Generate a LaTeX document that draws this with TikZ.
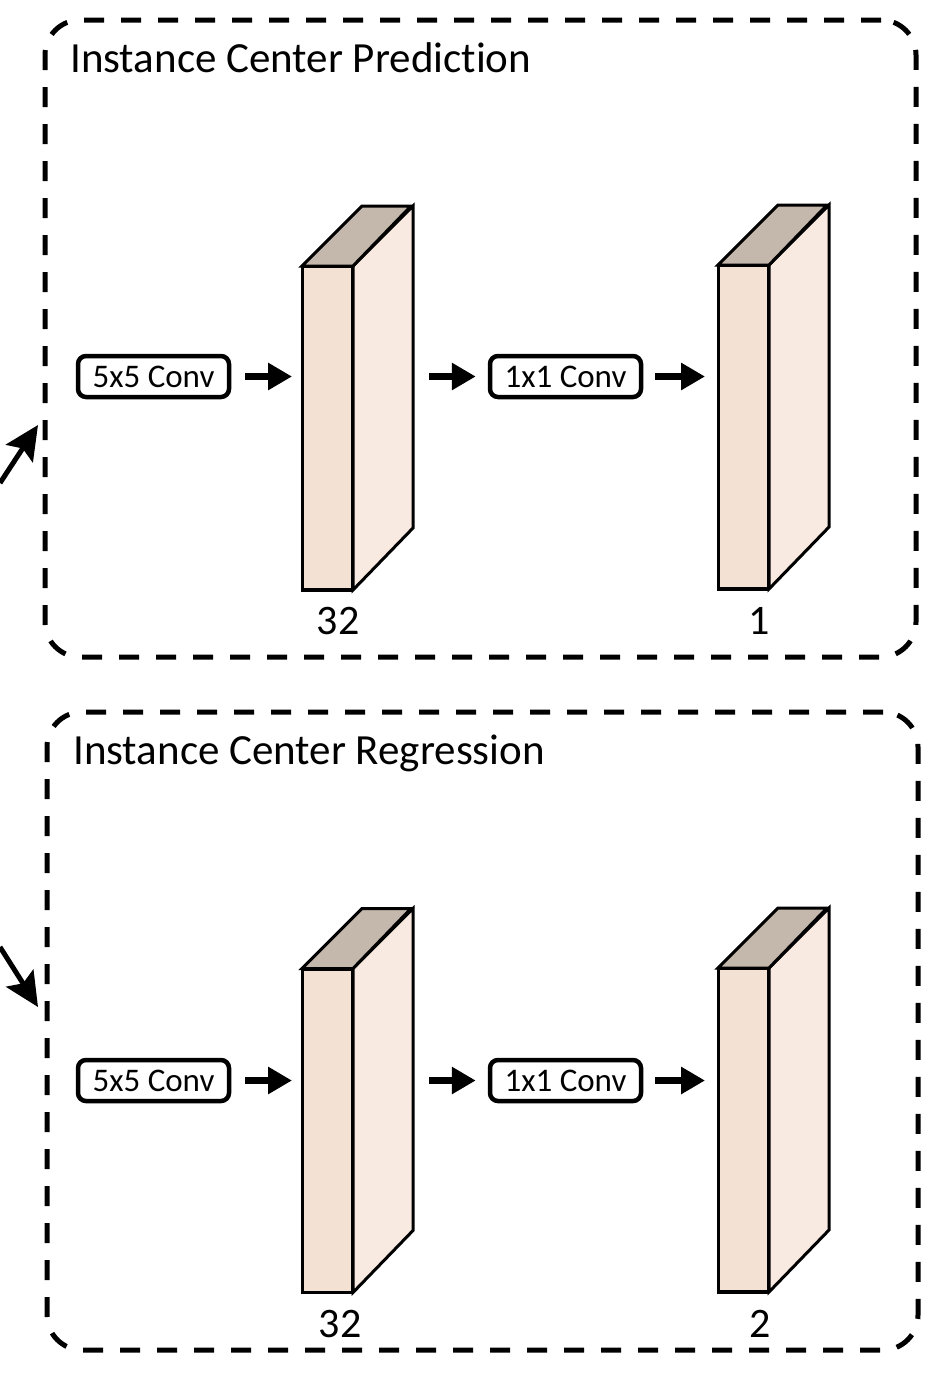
\documentclass[tikz,border=0pt]{standalone}
\usepackage{fontspec}
\setmainfont{Carlito}[Ligatures={NoCommon,NoRequired,NoContextual},Contextuals={NoAlternate}]
\usetikzlibrary{arrows.meta}
\definecolor{frontc}{HTML}{F3E1D3}
\definecolor{sidec}{HTML}{F8EAE0}
\definecolor{topc}{HTML}{C4B7AB}
\newcommand\mycube[1]{%
  \draw[sidef] (#1.north east) -- ++(60,-60) -- ++(0,322) -- (#1.south east) -- cycle;
  \draw[topf] (#1.north west) -- ++(60,-60) -- ++(49,0) -- (#1.north east) -- cycle;
  \draw[line width=3pt, line join=miter] (#1.north east) -- (#1.north west) -- (#1.south west) -- (#1.south east);
}
\begin{document}
\begin{tikzpicture}[x=1pt,y=-1pt,
  grp/.style={draw, line width=5pt, dash pattern=on 20pt off 17pt, rounded corners=35pt, inner sep=0pt},
  conv/.style={draw, line width=4.5pt, rounded corners=8pt, minimum width=151pt, minimum height=41pt, inner sep=0pt, font=\fontsize{33}{36}\selectfont},
  front/.style={draw, line width=2pt, fill=frontc, minimum width=49pt, minimum height=322pt, inner sep=0pt},
  sidef/.style={draw, line width=3pt, fill=sidec, line join=miter},
  topf/.style={draw, line width=3pt, fill=topc, line join=miter},
  flow/.style={line width=7pt, -{Triangle[length=24pt,width=26pt]}},
  feed/.style={line width=5pt, -{Stealth[length=34pt,width=32pt,inset=6pt]}},
  title/.style={font=\fontsize{43}{48}\selectfont, anchor=base west, inner sep=0pt},
  lbl/.style={font=\fontsize{42}{48}\selectfont, inner sep=0pt}
]
\useasboundingbox (0,0) rectangle (942,1376);

% ---------- top group ----------
\node[grp, minimum width=871pt, minimum height=637pt] (box1) at (480.5,338.5) {};
\node[title] (t1) at (70,72) {Instance Center Prediction};
\node[conv] (a1) at (153.5,376.5) {5x5 Conv};
\node[front] (c1) at (327.5,428) {};
\mycube{c1}
\node[conv] (b1) at (565.5,376.5) {1x1 Conv};
\node[front] (d1) at (743.5,427) {};
\mycube{d1}
\node[lbl] (n1) at (338,621) {32};
\node[lbl] (m1) at (759,621) {1};
\coordinate (c1s) at ([xshift=60pt]c1.east);
\draw[flow, shorten <=14pt, shorten >=10pt] (a1.east) -- (a1.east -| c1.west);
\draw[flow, shorten <=16pt, shorten >=12pt] (b1.west -| c1s) -- (b1.west);
\draw[flow, shorten <=12pt, shorten >=13pt] (b1.east) -- (b1.east -| d1.west);
\coordinate (src1) at (0,483);
\coordinate (in1) at (38,425);
\draw[feed] (src1) -- (in1);

% ---------- bottom group ----------
\node[grp, minimum width=871pt, minimum height=638pt] (box2) at (482.5,1031) {};
\node[title] (t2) at (73,764) {Instance Center Regression};
\node[conv] (a2) at (153.5,1080.5) {5x5 Conv};
\node[front] (c2) at (327.5,1130.5) {};
\mycube{c2}
\node[conv] (b2) at (565.5,1080.5) {1x1 Conv};
\node[front] (d2) at (743.5,1130) {};
\mycube{d2}
\node[lbl] (n2) at (340,1324) {32};
\node[lbl] (m2) at (760,1324) {2};
\coordinate (c2s) at ([xshift=60pt]c2.east);
\draw[flow, shorten <=14pt, shorten >=10pt] (a2.east) -- (a2.east -| c2.west);
\draw[flow, shorten <=16pt, shorten >=12pt] (b2.west -| c2s) -- (b2.west);
\draw[flow, shorten <=12pt, shorten >=13pt] (b2.east) -- (b2.east -| d2.west);
\coordinate (src2) at (0,947);
\coordinate (in2) at (38,1007);
\draw[feed] (src2) -- (in2);
\end{tikzpicture}
\end{document}
